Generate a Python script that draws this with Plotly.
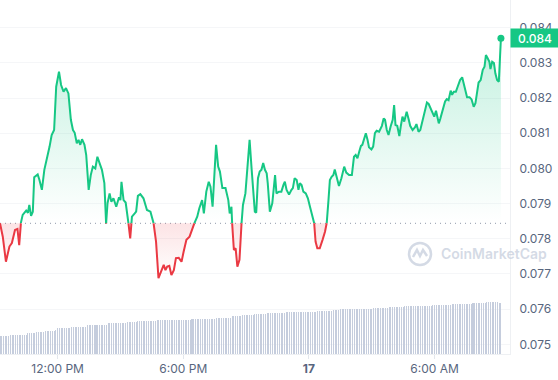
import numpy as np
import pandas as pd
import plotly.graph_objects as go

# ---------------- data ----------------
WINDOW_START = pd.Timestamp("2024-01-16 09:15")
BASE_PRICE = 0.07844          # 24h-ago reference price (dotted line)

# minutes elapsed since WINDOW_START for each price sample
minutes = [
    0, 8, 17, 27, 34, 43, 50, 55, 60, 65,
    75, 80, 84, 89, 94, 98, 108, 113, 120, 127,
    134, 142, 148, 155, 161, 165, 169, 175, 182, 189,
    196, 203, 209, 214, 220, 225, 230, 235, 242, 247,
    254, 260, 266, 273, 279, 287, 292, 299, 304, 308,
    314, 319, 325, 333, 341, 345, 348, 354, 360, 365,
    368, 373, 378, 386, 390, 395, 402, 411, 421, 431,
    440, 447, 454, 462, 469, 474, 479, 485, 491, 498,
    504, 512, 520, 526, 534, 543, 550, 557, 565, 571,
    579, 584, 591, 598, 603, 609, 614, 619, 625, 630,
    637, 646, 654, 658, 663, 665, 670, 675, 680, 686,
    692, 696, 703, 709, 715, 721, 726, 730, 734, 739,
    744, 749, 754, 759, 764, 767, 773, 780, 788, 792,
    799, 806, 812, 816, 821, 828, 835, 839, 844, 850,
    855, 859, 864, 869, 876, 882, 888, 895, 900, 904,
    909, 916, 924, 931, 936, 941, 945, 950, 955, 959,
    965, 971, 978, 986, 992, 1000, 1008, 1014, 1019, 1024,
    1029, 1034, 1038, 1043, 1048, 1053, 1057, 1064, 1069, 1074,
    1079, 1086, 1094, 1099, 1103, 1108, 1113, 1119, 1125, 1129,
    1133, 1138, 1144, 1148, 1153, 1158, 1165, 1171, 1175, 1182,
    1189, 1193, 1199, 1204, 1211, 1218, 1223, 1228, 1233, 1239,
    1244, 1249, 1257, 1261, 1268, 1275, 1280, 1285, 1291, 1295,
    1300, 1306, 1311, 1318, 1324, 1328, 1333, 1338, 1345, 1351,
    1357, 1362, 1367, 1371, 1377, 1383, 1388, 1392, 1397, 1402,
    1405, 1410, 1415, 1419, 1424, 1429, 1435,
]

prices = [
    0.07844, 0.07806, 0.07735, 0.07778, 0.07788, 0.07825, 0.07828, 0.07782, 0.07846, 0.07868,
    0.07880, 0.07874, 0.07896, 0.07865, 0.07877, 0.07975, 0.07983, 0.07967, 0.07939, 0.07996,
    0.08024, 0.08062, 0.08095, 0.08109, 0.08232, 0.08261, 0.08275, 0.08237, 0.08218, 0.08228,
    0.08213, 0.08138, 0.08109, 0.08101, 0.08071, 0.08081, 0.08067, 0.08083, 0.08067, 0.08038,
    0.07939, 0.07981, 0.08005, 0.08000, 0.08033, 0.08010, 0.07996, 0.07958, 0.07843, 0.07901,
    0.07929, 0.07905, 0.07915, 0.07891, 0.07918, 0.07910, 0.07962, 0.07910, 0.07903, 0.07868,
    0.07844, 0.07801, 0.07863, 0.07872, 0.07877, 0.07922, 0.07927, 0.07915, 0.07882, 0.07877,
    0.07844, 0.07792, 0.07688, 0.07709, 0.07726, 0.07711, 0.07721, 0.07723, 0.07697, 0.07711,
    0.07745, 0.07746, 0.07735, 0.07763, 0.07797, 0.07806, 0.07825, 0.07845, 0.07863, 0.07887,
    0.07910, 0.07872, 0.07934, 0.07962, 0.07948, 0.07891, 0.07986, 0.08067, 0.08005, 0.07991,
    0.07944, 0.07944, 0.07910, 0.07872, 0.07891, 0.07844, 0.07768, 0.07773, 0.07721, 0.07740,
    0.07845, 0.07896, 0.07929, 0.08015, 0.08081, 0.07996, 0.07915, 0.07877, 0.07874, 0.07972,
    0.07991, 0.07996, 0.08015, 0.07996, 0.07986, 0.07958, 0.07877, 0.07901, 0.07981, 0.07929,
    0.07934, 0.07934, 0.07953, 0.07962, 0.07939, 0.07926, 0.07939, 0.07944, 0.07972, 0.07967,
    0.07939, 0.07958, 0.07953, 0.07934, 0.07929, 0.07915, 0.07891, 0.07863, 0.07845, 0.07792,
    0.07773, 0.07773, 0.07797, 0.07820, 0.07845, 0.07910, 0.07967, 0.07976, 0.07981, 0.07997,
    0.07976, 0.07950, 0.07972, 0.08005, 0.07988, 0.07981, 0.07981, 0.08033, 0.08038, 0.08029,
    0.08047, 0.08064, 0.08067, 0.08081, 0.08100, 0.08081, 0.08060, 0.08054, 0.08062, 0.08100,
    0.08107, 0.08104, 0.08121, 0.08142, 0.08138, 0.08109, 0.08095, 0.08119, 0.08138, 0.08180,
    0.08123, 0.08121, 0.08092, 0.08119, 0.08147, 0.08133, 0.08161, 0.08138, 0.08121, 0.08109,
    0.08117, 0.08126, 0.08104, 0.08109, 0.08138, 0.08161, 0.08187, 0.08183, 0.08171, 0.08161,
    0.08147, 0.08164, 0.08128, 0.08140, 0.08166, 0.08190, 0.08197, 0.08194, 0.08221, 0.08209,
    0.08218, 0.08218, 0.08232, 0.08251, 0.08259, 0.08242, 0.08223, 0.08202, 0.08202, 0.08196,
    0.08175, 0.08185, 0.08218, 0.08244, 0.08251, 0.08280, 0.08289, 0.08322, 0.08313, 0.08303,
    0.08282, 0.08303, 0.08299, 0.08270, 0.08251, 0.08246, 0.08370,
]

# 5-minute volume bars, run-length: level (millions) and number of consecutive bars
volume_levels = [36.2, 38.2, 40.7, 42.7, 44.7, 47.5, 51.4, 54.0, 57.9, 61.3,
                 63.9, 65.8, 67.8, 69.8, 71.8, 74.3, 77.1, 79.7, 81.7, 83.6,
                 85.6, 87.6, 89.6, 91.5, 93.5, 95.5, 97.5, 99.4, 101.4, 103.4, 101.4]
volume_counts = [6, 10, 5, 5, 6, 1, 8, 9, 12, 11,
                 6, 11, 20, 14, 9, 6, 7, 7, 11, 18,
                 9, 4, 19, 9, 9, 16, 11, 12, 8, 7, 2]
VOLUME_STEP_MIN = 5

tick_minutes = [165, 525, 885, 1245]
tick_labels = ["12:00 PM", "6:00 PM", "<b>17</b>", "6:00 AM"]

# ---------------- styling ----------------
GREEN = "#16c784"
RED = "#ea3943"
FONT = "Inter"
AX_COLOR = "#58667e"

# ---------------- build split series ----------------
xs, ys = [minutes[0]], [prices[0]]
for i in range(1, len(prices)):
    a, b = prices[i - 1], prices[i]
    if (a - BASE_PRICE) * (b - BASE_PRICE) < 0:
        f = (BASE_PRICE - a) / (b - a)
        xs.append(minutes[i - 1] + f * (minutes[i] - minutes[i - 1]))
        ys.append(BASE_PRICE)
    xs.append(minutes[i])
    ys.append(prices[i])

x_dt = WINDOW_START + pd.to_timedelta(np.array(xs, dtype=float), unit="min")
ys = np.array(ys)
green_line = [y if y >= BASE_PRICE else None for y in ys]
red_line = [y if y <= BASE_PRICE else None for y in ys]
green_fill = np.maximum(ys, BASE_PRICE)
red_fill = np.minimum(ys, BASE_PRICE)
base_arr = np.full(len(ys), BASE_PRICE)

vol_vals = []
for lvl, cnt in zip(volume_levels, volume_counts):
    vol_vals += [lvl] * cnt
vol_x = WINDOW_START + pd.to_timedelta(np.arange(len(vol_vals)) * VOLUME_STEP_MIN, unit="min")

fig = go.Figure()

# volume bars (secondary axis); slight transparency keeps thin bars on whole pixels
fig.add_trace(go.Bar(
    x=vol_x, y=vol_vals, yaxis="y2",
    marker=dict(color="rgba(196,204,220,0.98)", line=dict(width=0)),
    width=VOLUME_STEP_MIN * 60 * 1000 * 0.58,
    hoverinfo="skip", showlegend=False,
))

# green fill
fig.add_trace(go.Scatter(x=x_dt, y=base_arr, mode="lines", line=dict(width=0),
                         hoverinfo="skip", showlegend=False))
fig.add_trace(go.Scatter(
    x=x_dt, y=green_fill, mode="lines", line=dict(width=0), fill="tonexty",
    fillgradient=dict(type="vertical",
                      colorscale=[[0, "rgba(22,199,132,0.0)"], [1, "rgba(22,199,132,0.26)"]],
                      start=BASE_PRICE, stop=max(prices)),
    hoverinfo="skip", showlegend=False))

# red fill
fig.add_trace(go.Scatter(x=x_dt, y=base_arr, mode="lines", line=dict(width=0),
                         hoverinfo="skip", showlegend=False))
fig.add_trace(go.Scatter(
    x=x_dt, y=red_fill, mode="lines", line=dict(width=0), fill="tonexty",
    fillgradient=dict(type="vertical",
                      colorscale=[[0, "rgba(234,57,67,0.0)"], [1, "rgba(234,57,67,0.14)"]],
                      start=min(prices), stop=BASE_PRICE),
    hoverinfo="skip", showlegend=False))

# lines
fig.add_trace(go.Scatter(x=x_dt, y=green_line, mode="lines",
                         line=dict(color=GREEN, width=2), hoverinfo="skip", showlegend=False))
fig.add_trace(go.Scatter(x=x_dt, y=red_line, mode="lines",
                         line=dict(color=RED, width=2), hoverinfo="skip", showlegend=False))

# end marker
fig.add_trace(go.Scatter(x=[x_dt[-1]], y=[prices[-1]], mode="markers",
                         marker=dict(color=GREEN, size=7), hoverinfo="skip", showlegend=False))

# baseline dotted line
fig.add_shape(type="line", xref="paper", x0=0, x1=1, yref="y", y0=BASE_PRICE, y1=BASE_PRICE,
              line=dict(color="#8f99ab", width=1, dash="1px,4px"), layer="below")

# last price badge
fig.add_annotation(xref="paper", x=1, xanchor="left", yref="y", y=prices[-1],
                   text=f"{prices[-1]:.3f}", showarrow=False,
                   bgcolor=GREEN, font=dict(color="white", size=12, family=FONT, weight=500),
                   width=44, height=14, borderpad=2, align="center")

# watermark
WM = "rgba(205,212,225,0.85)"
fig.add_annotation(xref="paper", yref="paper", x=0.8608, y=0.284, xanchor="left", yanchor="middle",
                   text="CoinMarketCap", showarrow=False,
                   font=dict(color=WM, size=14, family=FONT, weight=600))
fig.add_shape(type="circle", xref="paper", yref="paper", x0=0.8020, x1=0.8451, y0=0.2514, y1=0.3136,
              line=dict(color=WM, width=2.5))
fig.add_shape(type="path", xref="paper", yref="paper",
              path="M 0.8098 0.2740 L 0.8176 0.2938 L 0.8235 0.2768 L 0.8294 0.2938 L 0.8373 0.2768",
              line=dict(color=WM, width=2.5))

fig.update_layout(
    width=558, height=380,
    margin=dict(l=0, r=48, t=0, b=26),
    paper_bgcolor="white", plot_bgcolor="white",
    showlegend=False, hovermode=False,
    font=dict(family=FONT, size=12, color=AX_COLOR),
    xaxis=dict(
        type="date",
        range=[WINDOW_START, WINDOW_START + pd.Timedelta(minutes=1461)],
        tickvals=[WINDOW_START + pd.Timedelta(minutes=m) for m in tick_minutes],
        ticktext=tick_labels,
        showgrid=False, zeroline=False,
        showline=True, linecolor="#eef0f3", linewidth=1,
        ticks="outside", ticklen=4, tickcolor="#e3e7ed",
        tickfont=dict(size=12, color=AX_COLOR, family=FONT),
    ),
    yaxis=dict(
        side="right",
        range=[0.074727, 0.084784],
        tick0=0.075, dtick=0.001, tickformat=".3f",
        showgrid=True, gridcolor="#f5f6f8", gridwidth=1,
        zeroline=False,
        showline=True, linecolor="#eef0f3", linewidth=1,
        ticks="", ticklabelstandoff=6,
        tickfont=dict(size=12, color=AX_COLOR, family=FONT),
    ),
    yaxis2=dict(overlaying="y", range=[0, 700], visible=False),
    bargap=0,
)

fig.write_html("out.html", config={"displayModeBar": False},
               post_script="document.body.style.margin='0';")
